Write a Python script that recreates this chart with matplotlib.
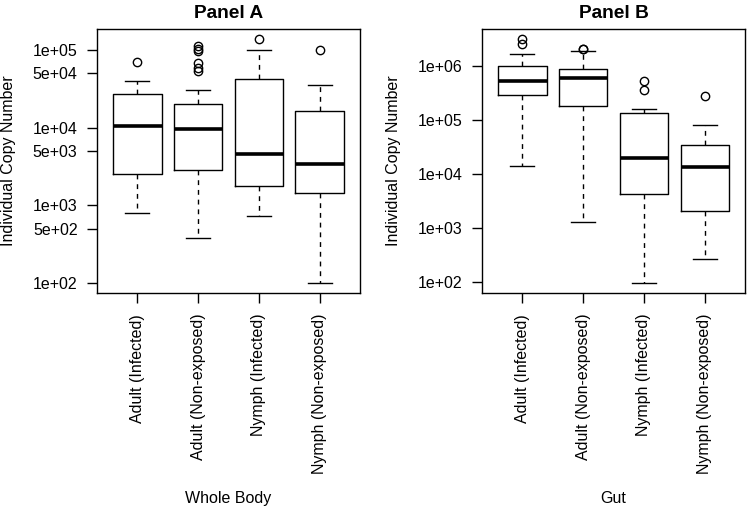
import matplotlib
matplotlib.use("Agg")
import matplotlib.pyplot as plt
from matplotlib.ticker import FixedLocator, NullLocator

plt.rcParams['font.family'] = ['Liberation Sans', 'DejaVu Sans']

groups = ["Adult (Infected)", "Adult (Non-exposed)", "Nymph (Infected)", "Nymph (Non-exposed)"]

# Panel A - Whole Body
a_whislo = [790, 385, 723, 100]
a_q1 = [2540, 2860, 1770, 1440]
a_med = [10400, 9500, 4600, 3390]
a_q3 = [27000, 19900, 42500, 16500]
a_whishi = [40000, 30300, 99000, 34800]
a_fliers = [[69000],
            [111000, 103000, 95000, 67000, 59000, 53000],
            [138000],
            [100000]]
a_ticks = [1e2, 5e2, 1e3, 5e3, 1e4, 5e4, 1e5]
a_ticklabels = ["1e+02", "5e+02", "1e+03", "5e+03", "1e+04", "5e+04", "1e+05"]

# Panel B - Gut
b_whislo = [14400, 1330, 96, 271]
b_q1 = [294000, 185000, 4300, 2060]
b_med = [530000, 590000, 19900, 13800]
b_q3 = [1000000, 900000, 137000, 34000]
b_whishi = [1700000, 1880000, 160000, 81000]
b_fliers = [[3200000, 2600000],
            [2100000, 2050000],
            [530000, 360000],
            [280000]]
b_ticks = [1e2, 1e3, 1e4, 1e5, 1e6]
b_ticklabels = ["1e+02", "1e+03", "1e+04", "1e+05", "1e+06"]


def make_stats(whislo, q1, med, q3, whishi, fliers):
    stats = []
    for i in range(len(med)):
        stats.append(dict(whislo=whislo[i], q1=q1[i], med=med[i], q3=q3[i],
                          whishi=whishi[i], fliers=fliers[i]))
    return stats


def draw_panel(ax, stats, ticks, ticklabels, title, xlabel):
    ax.bxp(stats, positions=range(1, len(stats) + 1), widths=0.8, capwidths=0.4,
           boxprops=dict(color='black', linewidth=1.0),
           medianprops=dict(color='black', linewidth=2.6, solid_capstyle='butt'),
           whiskerprops=dict(color='black', linewidth=1.0, linestyle=(0, (3.5, 3.5))),
           capprops=dict(color='black', linewidth=1.0),
           flierprops=dict(marker='o', markerfacecolor='none', markeredgecolor='black',
                           markersize=6, markeredgewidth=1.0))
    ax.set_yscale('log')
    ax.margins(y=0.04)
    ax.set_xlim(0.34, len(stats) + 0.66)
    ax.yaxis.set_major_locator(FixedLocator(ticks))
    ax.yaxis.set_minor_locator(NullLocator())
    ax.set_yticklabels(ticklabels)
    ax.set_xticks(range(1, len(stats) + 1))
    ax.set_xticklabels(groups, rotation=90)
    ax.tick_params(axis='both', direction='out', length=7, width=1.0,
                   labelsize=11.5, pad=7)
    ax.tick_params(axis='x', pad=8)
    for s in ax.spines.values():
        s.set_linewidth(1.0)
    ax.set_title(title, fontsize=13.8, fontweight='bold', pad=8)
    ax.set_ylabel("Individual Copy Number", fontsize=11.5, va='center')
    ax.set_xlabel(xlabel, fontsize=11.5, va='center')
    ax.xaxis.set_label_coords(0.5, -0.777)
    ax.yaxis.set_label_coords(-0.335, 0.5)


fig = plt.figure(figsize=(7.5, 5.11), dpi=100)
ax1 = fig.add_axes([0.1293, 0.4266, 0.3507, 0.5166])
ax2 = fig.add_axes([0.6427, 0.4266, 0.3507, 0.5166])

draw_panel(ax1, make_stats(a_whislo, a_q1, a_med, a_q3, a_whishi, a_fliers),
           a_ticks, a_ticklabels, "Panel A", "Whole Body")
draw_panel(ax2, make_stats(b_whislo, b_q1, b_med, b_q3, b_whishi, b_fliers),
           b_ticks, b_ticklabels, "Panel B", "Gut")

fig.savefig("out.png", dpi=100, facecolor='white')
